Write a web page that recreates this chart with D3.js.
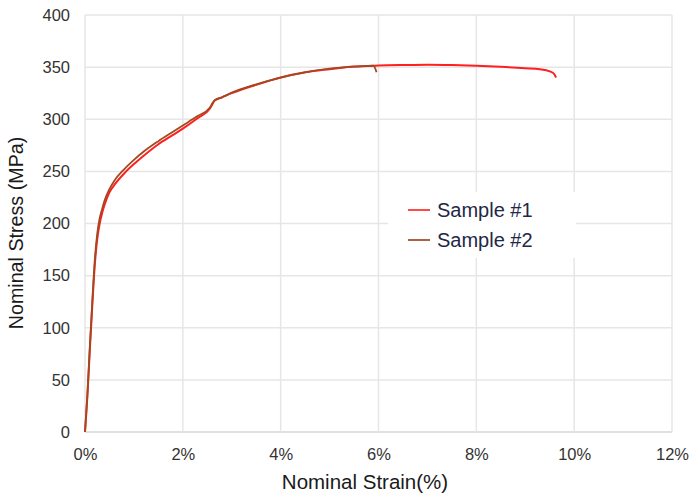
<!DOCTYPE html>
<html>
<head>
<meta charset="utf-8">
<script src="https://cdn.jsdelivr.net/npm/d3@7"></script>
<style>
  body { margin: 0; background: #fff; }
  svg text { font-family: "Liberation Sans", Arial, sans-serif; }
</style>
</head>
<body>
<svg id="chart" width="690" height="498"></svg>
<script>
// strain in %, stress in MPa
const strain1 = [0, 0.05, 0.1, 0.15, 0.2, 0.25, 0.3, 0.35, 0.4, 0.5, 0.6, 0.8, 1.0, 1.2, 1.5, 1.8, 2.0, 2.3, 2.55, 2.6, 2.65, 2.8, 3.0, 3.5, 4.0, 4.5, 5.0, 5.5, 6.0, 6.5, 7.0, 7.5, 8.0, 8.5, 9.0, 9.3, 9.5, 9.58, 9.63];
const stress1 = [0, 35, 80, 122, 160, 185, 200, 210, 218, 230, 237, 248, 257, 265, 276, 285, 291, 301, 310, 314, 318, 321, 325, 333, 340, 345, 348, 350.5, 351.5, 352, 352.3, 352, 351.3, 350.3, 349, 348, 346, 344, 340];
const strain2 = [0, 0.05, 0.1, 0.15, 0.2, 0.25, 0.3, 0.35, 0.4, 0.5, 0.6, 0.8, 1.0, 1.2, 1.5, 1.8, 2.0, 2.3, 2.55, 2.6, 2.65, 2.8, 3.0, 3.5, 4.0, 4.5, 5.0, 5.5, 5.9, 5.93, 5.96];
const stress2 = [0, 37, 83, 126, 165, 190, 205, 214, 222, 233, 241, 252, 261, 269, 279, 288, 294, 303, 311, 315, 318, 321, 325.5, 333.5, 340, 345, 348.5, 350.5, 351.5, 349, 345];
const xTicks = [0, 2, 4, 6, 8, 10, 12];
const yTicks = [0, 50, 100, 150, 200, 250, 300, 350, 400];
const seriesNames = ["Sample #1", "Sample #2"];
const seriesColors = ["#ff1f1f", "#a04a22"];

const margin = { left: 85, right: 18, top: 15, bottom: 66 };
const width = 690, height = 498;
const svg = d3.select('#chart');

const x = d3.scaleLinear().domain([0, 12]).range([margin.left, width - margin.right]);
const y = d3.scaleLinear().domain([0, 400]).range([height - margin.bottom, margin.top]);

// grid
svg.append('g')
    .selectAll('line.h')
    .data(yTicks)
    .join('line')
    .attr('x1', x(0)).attr('x2', x(12))
    .attr('y1', d => y(d)).attr('y2', d => y(d))
    .attr('stroke', d => d === 0 ? '#d6d6d6' : '#e6e6e6')
    .attr('stroke-width', 1.5);

svg.append('g')
    .selectAll('line.v')
    .data(xTicks)
    .join('line')
    .attr('x1', d => x(d)).attr('x2', d => x(d))
    .attr('y1', y(0)).attr('y2', y(400))
    .attr('stroke', '#e6e6e6')
    .attr('stroke-width', 1.5);

// axes (labels only)
const yAxis = svg.append('g')
    .attr('transform', `translate(${x(0)},0)`)
    .call(d3.axisLeft(y).tickValues(yTicks).tickSize(0).tickPadding(15));
const xAxis = svg.append('g')
    .attr('transform', `translate(0,${y(0)})`)
    .call(d3.axisBottom(x).tickValues(xTicks).tickFormat(d => d + '%').tickSize(0).tickPadding(16));
[xAxis, yAxis].forEach(g => {
    g.select('.domain').remove();
    g.selectAll('text').attr('font-size', 16.5).attr('fill', '#333')
        .style('font-family', '"Liberation Sans", Arial, sans-serif');
});

// legend box (hides grid behind it)
svg.append('rect')
    .attr('x', 388).attr('y', 192).attr('width', 188).attr('height', 66)
    .attr('fill', '#fff');

// curves
const line = d3.line().x(d => x(d[0])).y(d => y(d[1])).curve(d3.curveMonotoneX);
const data1 = strain1.map((s, i) => [s, stress1[i]]);
const data2 = strain2.map((s, i) => [s, stress2[i]]);

svg.append('path').datum(data1)
    .attr('fill', 'none').attr('stroke', seriesColors[0]).attr('stroke-width', 2)
    .attr('d', line);
svg.append('path').datum(data2)
    .attr('fill', 'none').attr('stroke', seriesColors[1]).attr('stroke-width', 1.8)
    .attr('d', line);

// legend
const legendColors = ["#ff4a4a", "#b0603a"];
const legend = svg.append('g');
seriesNames.forEach((name, i) => {
    const ly = 210 + i * 30;
    legend.append('line')
        .attr('x1', 408).attr('x2', 430).attr('y1', ly).attr('y2', ly)
        .attr('stroke', legendColors[i]).attr('stroke-width', 2);
    legend.append('text')
        .attr('x', 437).attr('y', ly + 7)
        .attr('font-size', 20).attr('fill', '#1f2847')
        .text(name);
});

// axis titles
svg.append('text')
    .attr('x', 365).attr('y', 489)
    .attr('text-anchor', 'middle')
    .attr('font-size', 20.5).attr('fill', '#1a1a1a')
    .text('Nominal Strain(%)');
svg.append('text')
    .attr('transform', 'translate(23,233) rotate(-90)')
    .attr('text-anchor', 'middle')
    .attr('font-size', 19.7).attr('fill', '#1a1a1a')
    .text('Nominal Stress (MPa)');
</script>
</body>
</html>
